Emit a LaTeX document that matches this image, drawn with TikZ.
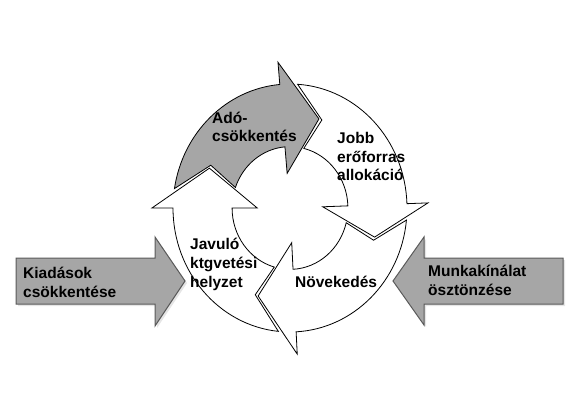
\documentclass[tikz,border=0pt]{standalone}
\usepackage{fontspec}
\setmainfont{Liberation Sans}
\definecolor{arrgray}{HTML}{A6A6A6}
\definecolor{sideedge}{HTML}{5A5A5A}
\newcommand\cycarrow[5]{% #1 options, #2 previous tip, #3 previous span, #4 base, #5 tip
  \draw[cyc,#1] ({#2+0.72*#3-2}:1)
    arc[start angle={#2+0.72*#3-2}, end angle={#4}, radius=1]
    -- ({#4}:1.18) -- ({#5}:0.76) -- ({#4}:0.28) -- ({#4}:0.495)
    arc[start angle={#4}, end angle={#2+0.28*#3-1.5}, radius=0.495]
    -- ({#2-2}:0.76) -- cycle;}
\begin{document}
\begin{tikzpicture}[x=1pt,y=1pt,
  lbl/.style={font=\bfseries\fontsize{15.5}{18.7}\selectfont, align=left, inner sep=0pt, anchor=base west},
  cyc/.style={draw=black, line width=0.8pt, line join=miter},
  side/.style={draw=sideedge, fill=arrgray, line width=1pt},
  sideshadow/.style={draw=none, fill=black!10}]
\useasboundingbox (0,0) rectangle (580,407);
% cycle
\begin{scope}[shift={(290,199)}, xscale=117, yscale=124]
  \cycarrow{fill=white}{71}{24}{2}{-18}
  \cycarrow{fill=white}{-18}{20}{-87}{-111}
  \cycarrow{fill=white}{249}{24}{180}{155}
  \cycarrow{fill=arrgray}{155}{25}{95}{71}
\end{scope}
% side arrows
\fill[sideshadow] (18,147) -- (157,147) -- (157,168) -- (187,124) -- (157,79) -- (157,101) -- (18,101) -- cycle;
\draw[side] (16,149) -- (155,149) -- (155,170) -- (185,126) -- (155,81) -- (155,103) -- (16,103) -- cycle;
\fill[sideshadow] (565,147) -- (426,147) -- (426,168) -- (395,124) -- (426,80) -- (426,101) -- (565,101) -- cycle;
\draw[side] (563,149) -- (424,149) -- (424,170) -- (393,126) -- (424,82) -- (424,103) -- (563,103) -- cycle;
% labels (anchor = baseline of the last line)
\node[lbl] (ado) at (212,265) {Adó-\\csökkentés};
\node[lbl] (jobb) at (337,226) {Jobb\\erőforras\\allokáció};
\node[lbl] (javulo) at (190,120) {Javuló\\ktgvetési\\helyzet};
\node[lbl] (novek) at (295,120) {Növekedés};
\node[lbl] (kiad) at (23,110) {Kiadások\\csökkentése};
\node[lbl] (munka) at (428,112) {Munkakínálat\\ösztönzése};
\end{tikzpicture}
\end{document}
